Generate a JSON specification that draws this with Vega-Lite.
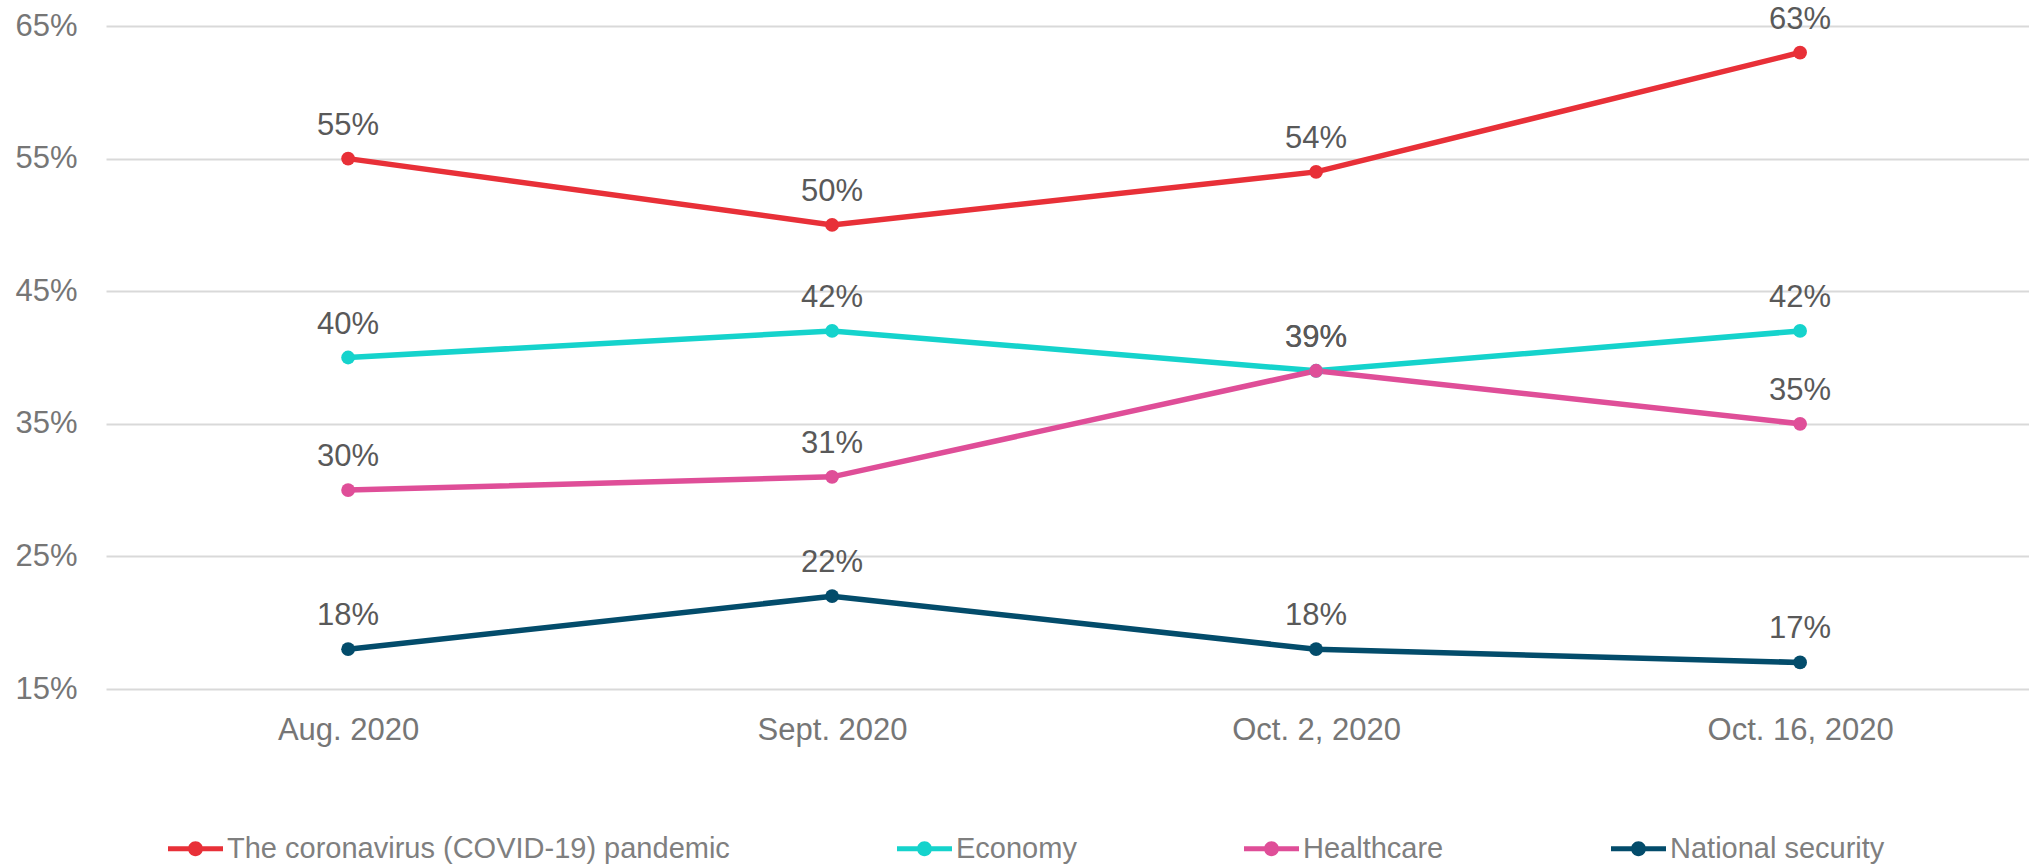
{
  "$schema": "https://vega.github.io/schema/vega-lite/v6.json",
  "autosize": {"type": "none"},
  "padding": {"left": 106, "top": 26, "right": 0, "bottom": 175},
  "width": 1923,
  "height": 663,
  "background": "white",
  "config": {
    "view": {"stroke": null},
    "font": "Liberation Sans"
  },
  "data": {
    "values": [
      {"date": "Aug. 2020", "issue": "The coronavirus (COVID-19) pandemic", "pct": 0.55},
      {"date": "Sept. 2020", "issue": "The coronavirus (COVID-19) pandemic", "pct": 0.50},
      {"date": "Oct. 2, 2020", "issue": "The coronavirus (COVID-19) pandemic", "pct": 0.54},
      {"date": "Oct. 16, 2020", "issue": "The coronavirus (COVID-19) pandemic", "pct": 0.63},
      {"date": "Aug. 2020", "issue": "Economy", "pct": 0.40},
      {"date": "Sept. 2020", "issue": "Economy", "pct": 0.42},
      {"date": "Oct. 2, 2020", "issue": "Economy", "pct": 0.39},
      {"date": "Oct. 16, 2020", "issue": "Economy", "pct": 0.42},
      {"date": "Aug. 2020", "issue": "Healthcare", "pct": 0.30},
      {"date": "Sept. 2020", "issue": "Healthcare", "pct": 0.31},
      {"date": "Oct. 2, 2020", "issue": "Healthcare", "pct": 0.39},
      {"date": "Oct. 16, 2020", "issue": "Healthcare", "pct": 0.35},
      {"date": "Aug. 2020", "issue": "National security", "pct": 0.18},
      {"date": "Sept. 2020", "issue": "National security", "pct": 0.22},
      {"date": "Oct. 2, 2020", "issue": "National security", "pct": 0.18},
      {"date": "Oct. 16, 2020", "issue": "National security", "pct": 0.17}
    ]
  },
  "encoding": {
    "x": {
      "field": "date", "type": "ordinal",
      "sort": ["Aug. 2020", "Sept. 2020", "Oct. 2, 2020", "Oct. 16, 2020"],
      "scale": {"type": "point", "padding": 0.4866, "align": 0.514},
      "axis": {
        "title": null, "domain": false, "ticks": false, "grid": false,
        "labelAngle": 0, "labelFontSize": 31, "labelColor": "#767676",
        "labelPadding": 26, "labelLimit": 500, "labelFont": "Liberation Sans"
      }
    },
    "y": {
      "field": "pct", "type": "quantitative",
      "scale": {"domain": [0.15, 0.65], "nice": false, "zero": false},
      "axis": {
        "title": null, "domain": false, "ticks": false,
        "values": [0.15, 0.25, 0.35, 0.45, 0.55, 0.65],
        "format": ".0%",
        "labelFontSize": 31, "labelColor": "#767676", "labelPadding": 29,
        "gridColor": "#d9d9d9", "gridWidth": 2, "labelFont": "Liberation Sans"
      }
    }
  },
  "layer": [
    {
      "mark": {"type": "line", "strokeWidth": 5.5, "point": {"filled": true, "size": 190, "opacity": 1}},
      "encoding": {
        "color": {
          "field": "issue", "type": "nominal",
          "scale": {
            "domain": ["The coronavirus (COVID-19) pandemic", "Economy", "Healthcare", "National security"],
            "range": ["#E83038", "#15D3CC", "#DF4E98", "#034C6B"]
          },
          "legend": {
            "title": null,
            "orient": "none",
            "direction": "horizontal",
            "legendX": 62,
            "legendY": 795,
            "padding": 0,
            "columnPadding": 167,
            "labelOffset": 4,
            "labelFontSize": 29,
            "labelColor": "#7f7f7f",
            "labelFont": "Liberation Sans",
            "labelLimit": 1000,
            "symbolType": "M-1,-0.091L1,-0.091L1,0.091L-1,0.091Z M-0.27,0A0.27,0.27,0,1,1,0.27,0A0.27,0.27,0,1,1,-0.27,0Z",
            "symbolSize": 3025,
            "symbolStrokeWidth": 0,
            "encode": {
              "symbols": {
                "update": {
                  "fill": {"scale": "color", "field": "value"},
                  "stroke": {"value": "transparent"},
                  "strokeWidth": {"value": 0},
                  "opacity": {"value": 1}
                }
              }
            }
          }
        }
      }
    },
    {
      "mark": {"type": "text", "dy": -24, "baseline": "alphabetic", "fontSize": 31, "color": "#595959", "font": "Liberation Sans"},
      "encoding": {
        "text": {"field": "pct", "type": "quantitative", "format": ".0%"},
        "detail": {"field": "issue"}
      }
    }
  ]
}
